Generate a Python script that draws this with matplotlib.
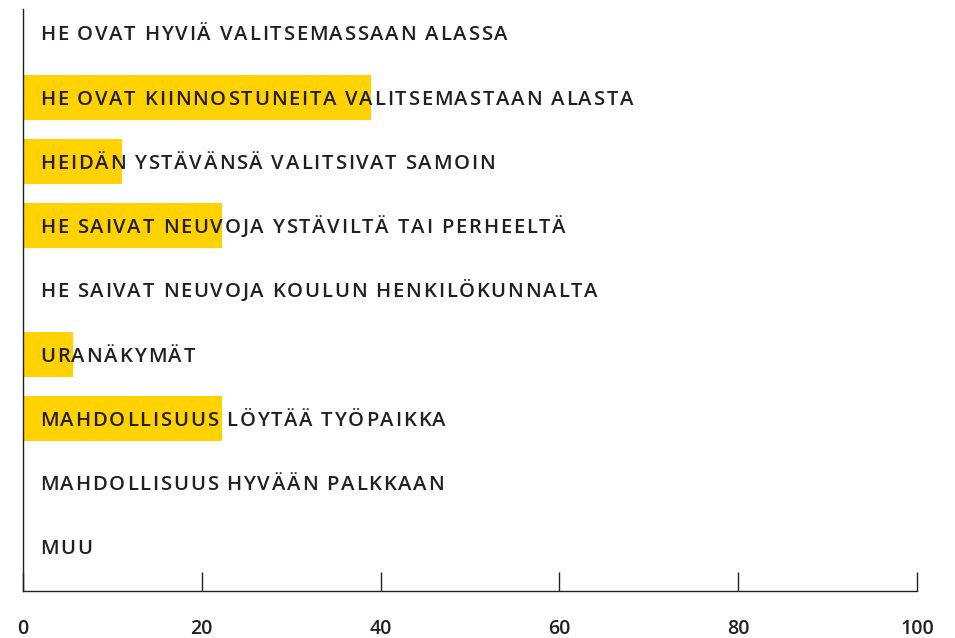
import numpy as np
import matplotlib
matplotlib.use("Agg")
from matplotlib import pyplot as plt
from matplotlib.font_manager import FontProperties, findfont, get_font

categories = [
    "HE OVAT HYVIÄ VALITSEMASSAAN ALASSA",
    "HE OVAT KIINNOSTUNEITA VALITSEMASTAAN ALASTA",
    "HEIDÄN YSTÄVÄNSÄ VALITSIVAT SAMOIN",
    "HE SAIVAT NEUVOJA YSTÄVILTÄ TAI PERHEELTÄ",
    "HE SAIVAT NEUVOJA KOULUN HENKILÖKUNNALTA",
    "URANÄKYMÄT",
    "MAHDOLLISUUS LÖYTÄÄ TYÖPAIKKA",
    "MAHDOLLISUUS HYVÄÄN PALKKAAN",
    "MUU",
]
values = [0, 38.9, 11.1, 22.3, 0, 5.6, 22.3, 0, 0]
ticks = [0, 20, 40, 60, 80, 100]

yellow = "#FFD200"
dark = "#231F20"
DPI = 100
fsize = 14.6
tracking = 1.75   # extra px between letters, the original is letter-spaced

fig = plt.figure(figsize=(9.55, 6.38), dpi=DPI)
ax = fig.add_axes([23/955, 47/638, 894/955, 582/638])

y = np.arange(len(categories))
ax.barh(y, values, height=0.7, color=yellow, zorder=1)

prop = FontProperties(family="Open Sans", weight="semibold", size=fsize)
ft = get_font(findfont(prop))
ft.set_size(fsize, DPI)

def advance(ch):
    return ft.load_char(ord(ch)).linearHoriAdvance / 65536.0

# labels drawn letter by letter so the spacing matches
for i, lab in enumerate(categories):
    x = 17.0
    for ch in lab:
        if ch != " ":
            ax.annotate(ch, xy=(0, i), xytext=(x, -7.3), textcoords="offset pixels",
                        va="baseline", ha="left", fontproperties=prop,
                        color=dark, zorder=3, annotation_clip=False)
        x += advance(ch) + tracking

ax.set_xlim(0, 100)
ax.set_ylim(8.685, -0.373)
ax.set_yticks([])
ax.set_xticks(ticks)
ax.set_xticklabels([str(t) for t in ticks], fontsize=14,
                   fontfamily="Open Sans", fontweight="semibold", color=dark)
ax.tick_params(axis="x", direction="in", length=14, width=1, color=dark, pad=20)
ax.spines["top"].set_visible(False)
ax.spines["right"].set_visible(False)
ax.spines["left"].set_color(dark)
ax.spines["bottom"].set_color(dark)
ax.spines["left"].set_linewidth(1)
ax.spines["bottom"].set_linewidth(1)

fig.savefig("out.png", dpi=DPI)
